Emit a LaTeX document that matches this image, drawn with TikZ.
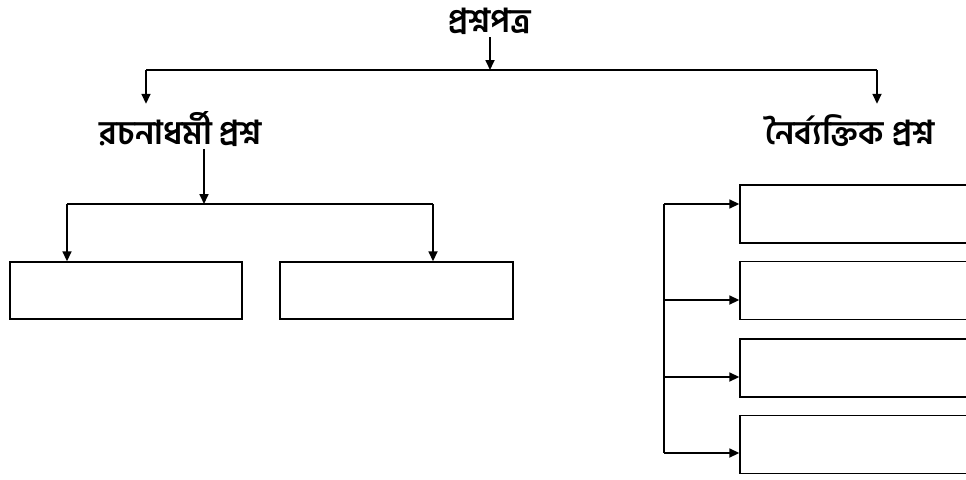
\documentclass[tikz,border=0pt]{standalone}
\usepackage{fontspec}
\newfontfamily\bn[Script=Bengali]{Hind Siliguri}
\usetikzlibrary{arrows.meta}
\begin{document}
\begin{tikzpicture}[x=1pt,y=-1pt,
  lbl/.style={font=\bn\bfseries\fontsize{33}{36}\selectfont, inner sep=0pt, text height=40pt, text depth=5pt, anchor=base},
  ln/.style={line width=1.7pt},
  arr/.style={ln,-{Triangle[length=10pt,width=9pt]}},
  box/.style={draw, line width=1.4pt, rectangle, inner sep=0pt}]
\useasboundingbox (0,0) rectangle (966,479);
% labels
\node[lbl] (t) at (490,32) {প্রশ্নপত্র};
\node[lbl] (l) at (181,144) {রচনাধর্মী প্রশ্ন};
\node[lbl] (r) at (850,144) {নৈর্ব্যক্তিক প্রশ্ন};
% top connectors
\coordinate (j0) at (490,70);
\coordinate (a1) at (146,70);
\coordinate (a2) at (877,70);
\draw[arr] (t.south -| j0) -- (j0);
\draw[ln] (a1) -- (a2);
\draw[arr] (a1) -- (a1 |- l.north);
\draw[arr] (a2) -- (a2 |- r.north);
% left boxes
\node[box, minimum width=232pt, minimum height=57pt] (lb1) at (126,290.5) {};
\node[box, minimum width=233pt, minimum height=57pt] (lb2) at (396.5,290.5) {};
\coordinate (k0) at (204,204);
\coordinate (k1) at (67,204);
\coordinate (k2) at (433,204);
\draw[arr] (l.south -| k0) -- (k0);
\draw[ln] (k1) -- (k2);
\draw[arr] (k1) -- (k1 |- lb1.north);
\draw[arr] (k2) -- (k2 |- lb2.north);
% right boxes
\node[box, minimum width=240pt, minimum height=58pt] (rb1) at (860,214) {};
\node[box, minimum width=240pt, minimum height=58pt] (rb2) at (860,290.5) {};
\node[box, minimum width=240pt, minimum height=58pt] (rb3) at (860,368) {};
\node[box, minimum width=240pt, minimum height=58pt] (rb4) at (860,444.5) {};
\coordinate (v1) at (664,204);
\coordinate (v2) at (664,300);
\coordinate (v3) at (664,377);
\coordinate (v4) at (664,453);
\draw[ln] (v1) -- (v4);
\draw[arr] (v1) -- (v1 -| rb1.west);
\draw[arr] (v2) -- (v2 -| rb2.west);
\draw[arr] (v3) -- (v3 -| rb3.west);
\draw[arr] (v4) -- (v4 -| rb4.west);
\end{tikzpicture}
\end{document}
